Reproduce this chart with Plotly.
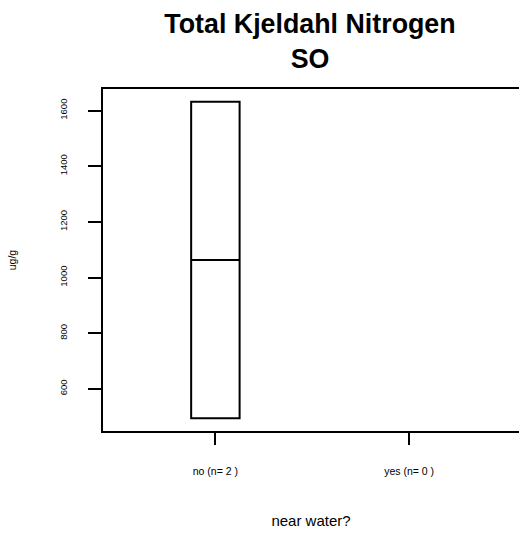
import plotly.graph_objects as go

# groups along x, with sample counts
groups = ["no", "yes"]
counts = [2, 0]
# box stats for the "no" group (two samples -> box spans min..max)
q1 = [494]
median = [1063]
q3 = [1632]
lo = [494]
hi = [1632]

yticks = [600, 800, 1000, 1200, 1400, 1600]
ticktext = [f"{g} (n= {n} )" for g, n in zip(groups, counts)]

FONT = "Liberation Sans, Arial, sans-serif"

box = go.Box(x=[1], q1=q1, median=median, q3=q3, lowerfence=lo, upperfence=hi,
             width=0.25, whiskerwidth=0.5, fillcolor="white",
             line=dict(color="black", width=2), boxpoints=False, hoverinfo="skip")

# plot area runs to the right edge like the original
fig = go.Figure([box])
fig.update_layout(
    width=519, height=533, showlegend=False, hovermode=False,
    paper_bgcolor="white", plot_bgcolor="white",
    margin=dict(l=103, r=0, t=89, b=102),
    font=dict(family=FONT, color="black"),
    title=dict(text="<b>Total Kjeldahl Nitrogen<br>SO</b>", x=310 / 519, xanchor="center",
               y=1 - 33 / 533, yanchor="top", yref="container", font=dict(size=26.8, family=FONT)),
)
fig.update_xaxes(range=[0.42, 2.567], tickvals=[1, 2], ticktext=ticktext,
                 showline=True, linecolor="black", linewidth=2, mirror=True,
                 ticks="outside", ticklen=12, tickwidth=2, tickcolor="black",
                 showgrid=False, zeroline=False, tickfont=dict(size=10.5),
                 ticklabelstandoff=17,
                 title=dict(text="near water?", font=dict(size=15), standoff=40))
fig.update_yaxes(range=[448.5, 1677.5], tickvals=yticks, tickangle=-90,
                 showline=True, linecolor="black", linewidth=2, mirror=False,
                 ticks="outside", ticklen=13, tickwidth=2, tickcolor="black",
                 showgrid=False, zeroline=False, tickfont=dict(size=9.5),
                 ticklabelstandoff=17,
                 title=dict(text="ug/g", font=dict(size=10.5), standoff=40))
fig.write_html("out.html", config={"displayModeBar": False},
               post_script="document.body.style.margin='0';document.body.style.overflow='hidden';")
